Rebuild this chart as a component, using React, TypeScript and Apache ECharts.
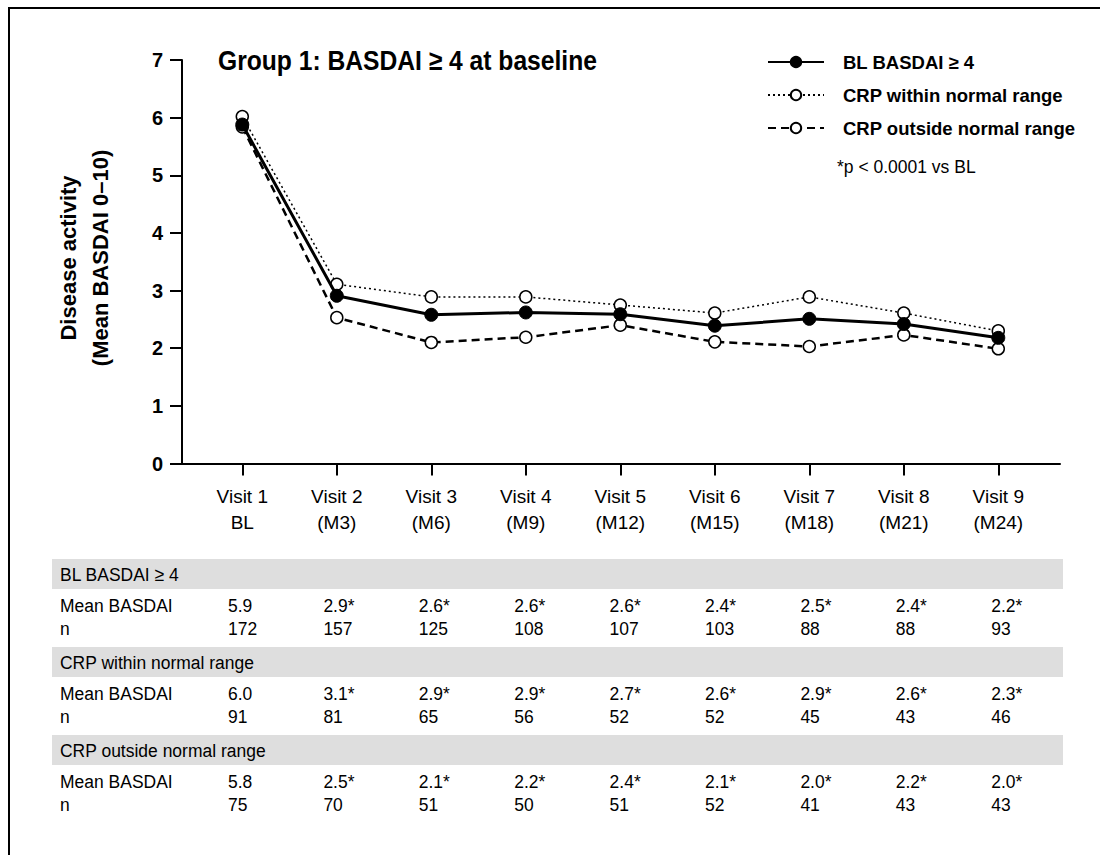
import React, { useEffect, useRef } from "react";
import * as echarts from "echarts";

const FONT = "'Liberation Sans', Arial, Helvetica, sans-serif";

const visits = [
  "Visit 1\nBL",
  "Visit 2\n(M3)",
  "Visit 3\n(M6)",
  "Visit 4\n(M9)",
  "Visit 5\n(M12)",
  "Visit 6\n(M15)",
  "Visit 7\n(M18)",
  "Visit 8\n(M21)",
  "Visit 9\n(M24)",
];

const seriesNames = ["BL BASDAI ≥ 4", "CRP within normal range", "CRP outside normal range"];

const blBasdai = [5.88, 2.91, 2.58, 2.62, 2.59, 2.39, 2.51, 2.42, 2.18];
const crpWithin = [6.02, 3.11, 2.89, 2.89, 2.75, 2.61, 2.89, 2.61, 2.3];
const crpOutside = [5.84, 2.53, 2.1, 2.19, 2.4, 2.11, 2.03, 2.23, 1.99];

const yTicks = [0, 1, 2, 3, 4, 5, 6, 7];

const blMean = ["5.9", "2.9*", "2.6*", "2.6*", "2.6*", "2.4*", "2.5*", "2.4*", "2.2*"];
const blN = ["172", "157", "125", "108", "107", "103", "88", "88", "93"];
const withinMean = ["6.0", "3.1*", "2.9*", "2.9*", "2.7*", "2.6*", "2.9*", "2.6*", "2.3*"];
const withinN = ["91", "81", "65", "56", "52", "52", "45", "43", "46"];
const outsideMean = ["5.8", "2.5*", "2.1*", "2.2*", "2.4*", "2.1*", "2.0*", "2.2*", "2.0*"];
const outsideN = ["75", "70", "51", "50", "51", "52", "41", "43", "43"];

const title = "Group 1: BASDAI ≥ 4 at baseline";
const yName = "Disease activity\n(Mean BASDAI 0–10)";
const footnote = "*p < 0.0001 vs BL";
const rowLabelMean = "Mean BASDAI";
const rowLabelN = "n";

export default function App() {
  const ref = useRef<HTMLDivElement>(null);

  useEffect(() => {
    if (!ref.current) return;
    const chart = echarts.init(ref.current, undefined, { renderer: "svg" });

    const tableGroups = [
      { label: seriesNames[0], mean: blMean, n: blN },
      { label: seriesNames[1], mean: withinMean, n: withinN },
      { label: seriesNames[2], mean: outsideMean, n: outsideN },
    ];

    const TS = 0.92; // horizontal condensing of table text
    const tableText = (text: string, x: number, y: number) => ({
      type: "text",
      x,
      y,
      scaleX: TS,
      style: { text, font: `19px ${FONT}`, fill: "#000", verticalAlign: "middle" },
    });

    const graphics: any[] = [
      { type: "line", shape: { x1: 9, y1: 8, x2: 9, y2: 855 }, style: { stroke: "#000", lineWidth: 2 } },
      { type: "line", shape: { x1: 8, y1: 8, x2: 1100, y2: 8 }, style: { stroke: "#000", lineWidth: 2 } },
      {
        type: "text",
        x: 218,
        y: 60,
        scaleX: 0.88,
        style: { text: title, font: `bold 28px ${FONT}`, fill: "#000", verticalAlign: "middle" },
      },
      {
        type: "text",
        x: 84,
        y: 258,
        rotation: Math.PI / 2,
        style: {
          text: yName,
          font: `bold 22px ${FONT}`,
          fill: "#000",
          align: "center",
          verticalAlign: "middle",
          lineHeight: 32,
        },
      },
      {
        type: "text",
        x: 837,
        y: 167,
        style: { text: footnote, font: `17.5px ${FONT}`, fill: "#000", verticalAlign: "middle" },
      },
    ];

    const colX = (i: number) => 228 + i * 95.4;
    tableGroups.forEach((g, gi) => {
      const bandTop = 559 + gi * 88;
      graphics.push({
        type: "rect",
        shape: { x: 52, y: bandTop, width: 1011, height: 30 },
        style: { fill: "#dedede" },
        z: 0,
      });
      graphics.push(tableText(g.label, 60, bandTop + 15));
      const meanY = bandTop + 46;
      const nY = bandTop + 69;
      graphics.push(tableText(rowLabelMean, 60, meanY));
      graphics.push(tableText(rowLabelN, 60, nY));
      g.mean.forEach((m, i) => {
        graphics.push(tableText(m, colX(i), meanY));
        graphics.push(tableText(g.n[i], colX(i), nY));
      });
    });

    const idx = visits.map((_, i) => i);

    const option: any = {
      animation: false,
      textStyle: { fontFamily: FONT },
      grid: { left: 182, right: 40, top: 60, height: 403.5, containLabel: false },
      xAxis: {
        type: "value",
        min: -0.638,
        max: 8.653,
        splitLine: { show: false },
        axisLine: { show: true, onZero: false, lineStyle: { color: "#000", width: 2 } },
        axisTick: { show: true, customValues: idx, length: 12, lineStyle: { color: "#000", width: 2 } },
        axisLabel: {
          customValues: idx,
          formatter: (v: number) => visits[Math.round(v)],
          margin: 20,
          fontSize: 19,
          lineHeight: 26,
          color: "#000",
          fontFamily: FONT,
        },
      },
      yAxis: {
        type: "value",
        min: yTicks[0],
        max: yTicks[yTicks.length - 1],
        interval: 1,
        splitLine: { show: false },
        axisLine: { show: true, onZero: false, lineStyle: { color: "#000", width: 2 } },
        axisTick: { show: true, length: 12, lineStyle: { color: "#000", width: 2 } },
        axisLabel: { margin: 19, fontSize: 20, fontWeight: "bold", color: "#000", fontFamily: FONT },
      },
      legend: {
        data: seriesNames,
        orient: "vertical",
        left: 762,
        top: 46,
        itemWidth: 56,
        itemHeight: 13,
        itemGap: 11,
        selectedMode: false,
        textStyle: {
          fontSize: 18.5,
          fontWeight: "bold",
          color: "#000",
          lineHeight: 22,
          fontFamily: FONT,
          padding: [0, 0, 0, 14],
        },
      },
      series: [
        {
          name: seriesNames[0],
          type: "line",
          data: blBasdai.map((v, i) => [i, v]),
          symbol: "circle",
          symbolSize: 13,
          itemStyle: { color: "#000", borderColor: "#000", borderWidth: 1 },
          lineStyle: { color: "#000", width: 3 },
          z: 4,
        },
        {
          name: seriesNames[1],
          type: "line",
          data: crpWithin.map((v, i) => [i, v]),
          symbol: "circle",
          symbolSize: 12,
          itemStyle: { color: "#fff", borderColor: "#000", borderWidth: 1.5 },
          lineStyle: { color: "#000", width: 1.5, type: [2, 3] },
          z: 3,
        },
        {
          name: seriesNames[2],
          type: "line",
          data: crpOutside.map((v, i) => [i, v]),
          symbol: "circle",
          symbolSize: 12,
          itemStyle: { color: "#fff", borderColor: "#000", borderWidth: 1.5 },
          lineStyle: { color: "#000", width: 2.5, type: [8, 5] },
          z: 2,
        },
      ],
      graphic: graphics,
    };

    chart.setOption(option);
    return () => chart.dispose();
  }, []);

  return (
    <div
      ref={ref}
      style={{ position: "fixed", left: 0, top: 0, width: 1100, height: 855, background: "#fff" }}
    />
  );
}
